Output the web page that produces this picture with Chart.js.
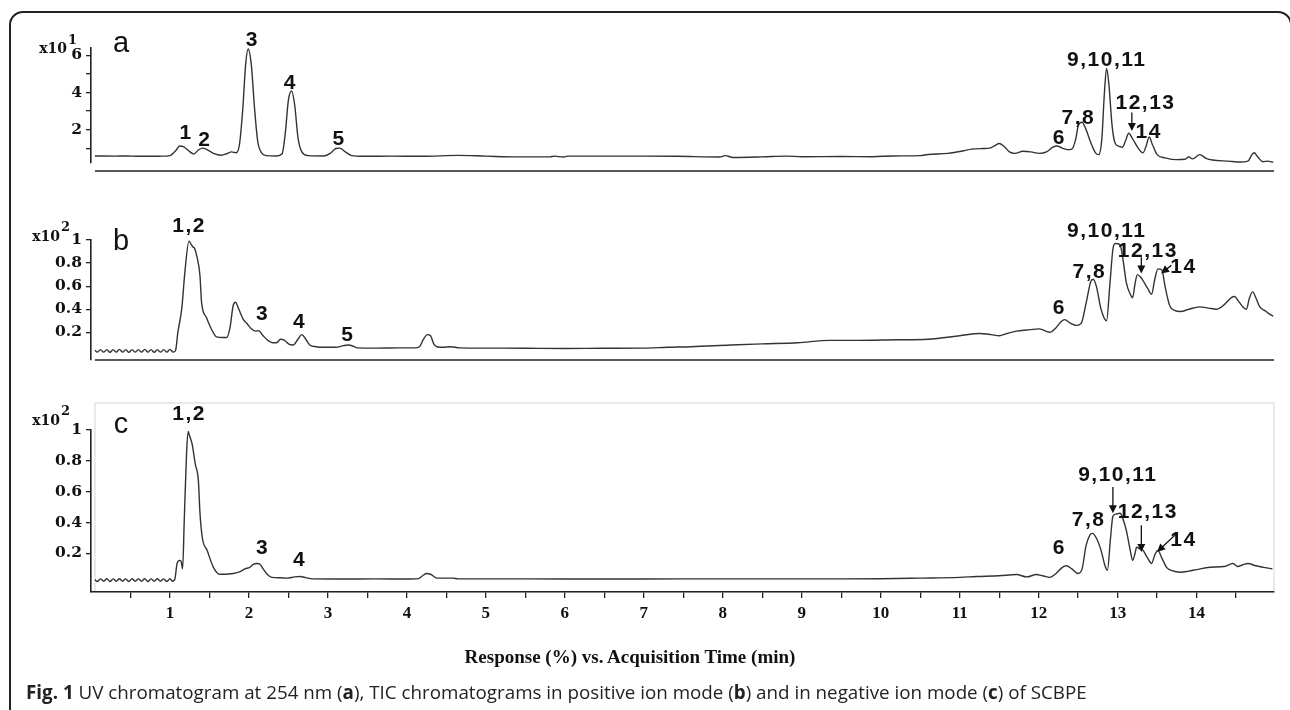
<!DOCTYPE html>
<html>
<head>
<meta charset="utf-8">
<script src="https://cdn.jsdelivr.net/npm/chart.js@4.4.1/dist/chart.umd.min.js"></script>
<style>
body { margin: 0; background: #fff; }
#wrap { position: relative; width: 1290px; height: 710px; overflow: hidden; background: #fff; }
#frame { position: absolute; left: 9px; top: 11px; width: 1283px; height: 730px; border: 2px solid #222; border-radius: 14px; box-sizing: border-box; }
canvas { position: absolute; left: 0; }
#xtitle { position: absolute; left: 330px; width: 600px; top: 647px; text-align: center; font: bold 19px "Liberation Serif"; line-height: 19px; color: #111; }
#caption { position: absolute; left: 26px; top: 682px; font: 18.8px "Open Sans"; line-height: 21px; color: #222; white-space: nowrap; }
</style>
</head>
<body>
<div id="wrap">
  <div id="frame"></div>
  <canvas id="chartA" width="1290" height="212" style="top:0px"></canvas>
  <canvas id="chartB" width="1290" height="190" style="top:212px"></canvas>
  <canvas id="chartC" width="1290" height="308" style="top:402px"></canvas>
  <div id="xtitle">Response (%) vs. Acquisition Time (min)</div>
  <div id="caption"><b>Fig. 1</b> UV chromatogram at 254 nm (<b>a</b>), TIC chromatograms in positive ion mode (<b>b</b>) and in negative ion mode (<b>c</b>) of SCBPE</div>
</div>
<script>
// acquisition time (min) and response for each trace
var timeA = [0.05, 0.3, 0.45, 0.6, 0.9, 1.0, 1.08, 1.12, 1.17, 1.24, 1.3, 1.36, 1.41, 1.47, 1.55, 1.65, 1.72, 1.78, 1.84, 1.88, 1.92, 1.96, 1.99, 2.03, 2.07, 2.11, 2.16, 2.22, 2.35, 2.42, 2.46, 2.5, 2.54, 2.58, 2.62, 2.67, 2.75, 2.95, 3.03, 3.1, 3.15, 3.22, 3.3, 3.45, 3.8, 4.2, 4.65, 5.0, 5.39, 5.81, 5.87, 5.98, 6.04, 7.0, 7.42, 7.96, 8.03, 8.13, 8.5, 8.81, 9.0, 9.5, 9.9, 10.15, 10.5, 10.6, 10.85, 11.04, 11.15, 11.3, 11.38, 11.45, 11.5, 11.56, 11.63, 11.7, 11.8, 11.9, 12.01, 12.1, 12.18, 12.23, 12.3, 12.37, 12.42, 12.47, 12.5, 12.55, 12.6, 12.66, 12.72, 12.76, 12.8, 12.83, 12.86, 12.89, 12.93, 12.97, 13.02, 13.06, 13.1, 13.14, 13.19, 13.26, 13.32, 13.36, 13.4, 13.44, 13.5, 13.6, 13.75, 13.85, 13.9, 13.95, 14.04, 14.12, 14.2, 14.4, 14.55, 14.65, 14.7, 14.73, 14.77, 14.84, 14.9, 14.97];
var respA = [0.58, 0.57, 0.58, 0.56, 0.57, 0.6, 0.9, 1.12, 1.08, 0.85, 0.68, 0.9, 1.0, 0.92, 0.72, 0.62, 0.7, 0.8, 0.75, 1.2, 3.0, 5.6, 6.35, 5.5, 3.2, 1.4, 0.75, 0.6, 0.58, 0.7, 1.8, 3.6, 4.08, 3.3, 1.6, 0.8, 0.6, 0.58, 0.72, 0.98, 1.0, 0.8, 0.6, 0.56, 0.57, 0.56, 0.61, 0.57, 0.53, 0.53, 0.57, 0.52, 0.57, 0.57, 0.56, 0.52, 0.6, 0.5, 0.53, 0.57, 0.54, 0.55, 0.54, 0.58, 0.6, 0.66, 0.72, 0.85, 0.95, 0.98, 1.0, 1.15, 1.25, 1.1, 0.8, 0.72, 0.83, 0.8, 0.72, 0.8, 1.05, 1.12, 1.0, 0.92, 0.95, 1.5, 2.2, 2.4, 2.0, 1.3, 0.75, 0.65, 1.5, 3.8, 5.3, 4.4, 2.2, 1.25, 1.1, 1.05, 1.4, 1.8, 1.5, 1.0, 0.75, 1.1, 1.6, 1.2, 0.65, 0.48, 0.38, 0.4, 0.52, 0.42, 0.65, 0.45, 0.36, 0.3, 0.25, 0.3, 0.65, 0.75, 0.55, 0.27, 0.3, 0.24];

var timeB = [0.05, 0.08, 0.12, 0.16, 0.2, 0.24, 0.28, 0.32, 0.36, 0.4, 0.44, 0.48, 0.52, 0.56, 0.6, 0.64, 0.68, 0.72, 0.76, 0.8, 0.84, 0.88, 0.92, 0.96, 1.0, 1.04, 1.07, 1.1, 1.15, 1.19, 1.24, 1.27, 1.29, 1.31, 1.34, 1.38, 1.4, 1.46, 1.53, 1.59, 1.66, 1.72, 1.76, 1.8, 1.83, 1.86, 1.89, 1.93, 1.97, 2.03, 2.08, 2.12, 2.18, 2.24, 2.3, 2.35, 2.4, 2.45, 2.5, 2.56, 2.62, 2.67, 2.72, 2.77, 2.85, 2.94, 3.1, 3.2, 3.26, 3.32, 3.37, 3.6, 3.9, 4.1, 4.16, 4.21, 4.26, 4.3, 4.34, 4.38, 4.45, 4.55, 4.67, 5.0, 5.5, 6.0, 6.5, 7.0, 7.3, 7.6, 8.1, 8.5, 8.95, 9.35, 9.7, 10.2, 10.6, 11.0, 11.25, 11.4, 11.5, 11.6, 11.72, 11.85, 12.01, 12.14, 12.22, 12.28, 12.33, 12.4, 12.48, 12.54, 12.6, 12.66, 12.69, 12.73, 12.79, 12.86, 12.9, 12.94, 12.97, 13.03, 13.07, 13.11, 13.16, 13.19, 13.22, 13.25, 13.29, 13.32, 13.38, 13.43, 13.47, 13.51, 13.56, 13.6, 13.66, 13.72, 13.8, 13.9, 14.04, 14.15, 14.25, 14.35, 14.44, 14.48, 14.53, 14.6, 14.63, 14.67, 14.71, 14.75, 14.8, 14.86, 14.92, 14.97];
var respB = [0.045, 0.028, 0.05, 0.028, 0.05, 0.026, 0.05, 0.028, 0.052, 0.028, 0.05, 0.026, 0.05, 0.028, 0.05, 0.028, 0.052, 0.028, 0.05, 0.026, 0.05, 0.028, 0.05, 0.028, 0.052, 0.028, 0.04, 0.2, 0.41, 0.73, 0.99, 0.96, 0.94, 0.93, 0.86, 0.69, 0.46, 0.33, 0.22, 0.16, 0.155, 0.155, 0.24, 0.43, 0.46, 0.42, 0.37, 0.31, 0.28, 0.23, 0.21, 0.215, 0.17, 0.13, 0.11, 0.11, 0.14, 0.13, 0.1, 0.09, 0.14, 0.18, 0.14, 0.09, 0.075, 0.07, 0.07, 0.085, 0.09, 0.08, 0.065, 0.063, 0.065, 0.065, 0.075, 0.14, 0.18, 0.17, 0.1, 0.075, 0.07, 0.075, 0.065, 0.063, 0.062, 0.06, 0.062, 0.063, 0.07, 0.075, 0.09, 0.1, 0.11, 0.13, 0.13, 0.135, 0.14, 0.17, 0.19, 0.18, 0.17, 0.19, 0.21, 0.22, 0.23, 0.2, 0.24, 0.29, 0.31, 0.28, 0.26, 0.28, 0.45, 0.64, 0.66, 0.6, 0.4, 0.3, 0.6, 0.92, 0.97, 0.96, 0.82, 0.63, 0.53, 0.5, 0.62, 0.7, 0.68, 0.65, 0.58, 0.53, 0.66, 0.75, 0.74, 0.6, 0.43, 0.39, 0.38, 0.4, 0.42, 0.41, 0.4, 0.44, 0.5, 0.51, 0.47, 0.41, 0.4, 0.5, 0.55, 0.5, 0.42, 0.39, 0.36, 0.34];

var timeC = [0.05, 0.08, 0.12, 0.16, 0.2, 0.24, 0.28, 0.32, 0.36, 0.4, 0.44, 0.48, 0.52, 0.56, 0.6, 0.64, 0.68, 0.72, 0.76, 0.8, 0.84, 0.88, 0.92, 0.96, 1.0, 1.03, 1.06, 1.09, 1.12, 1.14, 1.16, 1.18, 1.21, 1.23, 1.25, 1.28, 1.32, 1.36, 1.38, 1.41, 1.47, 1.55, 1.63, 1.7, 1.8, 1.88, 1.95, 2.01, 2.06, 2.1, 2.14, 2.18, 2.23, 2.29, 2.4, 2.48, 2.58, 2.65, 2.72, 2.8, 3.2, 3.6, 4.0, 4.15, 4.21, 4.25, 4.3, 4.38, 4.58, 4.65, 5.5, 6.5, 7.5, 8.5, 9.5, 10.0, 10.49, 11.0, 11.21, 11.5, 11.72, 11.85, 11.97, 12.05, 12.14, 12.22, 12.3, 12.35, 12.42, 12.5, 12.55, 12.6, 12.65, 12.68, 12.73, 12.79, 12.84, 12.87, 12.91, 12.94, 12.98, 13.03, 13.07, 13.11, 13.16, 13.19, 13.22, 13.24, 13.28, 13.32, 13.38, 13.43, 13.47, 13.51, 13.56, 13.62, 13.68, 13.8, 13.9, 14.0, 14.17, 14.35, 14.46, 14.52, 14.58, 14.65, 14.75, 14.85, 14.96];
var respC = [0.03, 0.018, 0.035, 0.02, 0.036, 0.018, 0.035, 0.02, 0.036, 0.02, 0.035, 0.018, 0.036, 0.02, 0.035, 0.02, 0.036, 0.018, 0.035, 0.02, 0.036, 0.02, 0.035, 0.018, 0.036, 0.02, 0.03, 0.135, 0.155, 0.15, 0.1, 0.4, 0.85, 0.99, 0.96, 0.91, 0.78, 0.67, 0.46, 0.3, 0.22, 0.11, 0.065, 0.065, 0.07, 0.08, 0.1, 0.11, 0.13, 0.135, 0.13, 0.1, 0.065, 0.045, 0.042, 0.04, 0.048, 0.05, 0.043, 0.035, 0.034, 0.035, 0.034, 0.037, 0.06, 0.07, 0.065, 0.04, 0.04, 0.035, 0.035, 0.034, 0.035, 0.035, 0.035, 0.036, 0.04, 0.045, 0.05, 0.055, 0.063, 0.048, 0.063, 0.055, 0.045, 0.07, 0.11, 0.12, 0.1, 0.07, 0.1, 0.25, 0.32, 0.33, 0.3, 0.22, 0.12, 0.09, 0.3, 0.44, 0.455, 0.46, 0.42, 0.35, 0.22, 0.155, 0.2, 0.24, 0.23, 0.22, 0.17, 0.135, 0.19, 0.22, 0.17, 0.11, 0.09, 0.078, 0.085, 0.095, 0.11, 0.115, 0.135, 0.115, 0.125, 0.135, 0.12, 0.11, 0.1];

// tick positions and labels
var xTicks = [0.5, 1, 1.5, 2, 2.5, 3, 3.5, 4, 4.5, 5, 5.5, 6, 6.5, 7, 7.5, 8, 8.5, 9, 9.5, 10, 10.5, 11, 11.5, 12, 12.5, 13, 13.5, 14, 14.5];
var xLabels = [1, 2, 3, 4, 5, 6, 7, 8, 9, 10, 11, 12, 13, 14];
var yTicksA = [1, 2, 3, 4, 5, 6];
var yLabelsA = [2, 4, 6];
var yTicksBC = [0.2, 0.4, 0.6, 0.8, 1];

// peak annotations (text, time, response)
var peaksA = [['1', 1.19, 1.8], ['2', 1.43, 1.44], ['3', 2.03, 6.84], ['4', 2.51, 4.52], ['5', 3.13, 1.48],
  ['6', 12.25, 1.52], ['7,8', 12.49, 2.64], ['9,10,11', 12.85, 5.72], ['12,13', 13.34, 3.4], ['14', 13.38, 1.84]];
var arrowsA = [[13.18, 2.92, 13.18, 1.92]];
var peaksB = [['1,2', 1.23, 1.12], ['3', 2.16, 0.36], ['4', 2.63, 0.29], ['5', 3.24, 0.174],
  ['6', 12.25, 0.41], ['7,8', 12.63, 0.72], ['9,10,11', 12.85, 1.08], ['12,13', 13.37, 0.9], ['14', 13.82, 0.76]];
var arrowsB = [[13.3, 0.85, 13.3, 0.71], [13.68, 0.78, 13.55, 0.71]];
var peaksC = [['1,2', 1.23, 1.1], ['3', 2.16, 0.234], ['4', 2.63, 0.156],
  ['6', 12.25, 0.234], ['7,8', 12.62, 0.416], ['9,10,11', 12.99, 0.71], ['12,13', 13.37, 0.47], ['14', 13.82, 0.286]];
var arrowsC = [[12.94, 0.63, 12.94, 0.46], [13.3, 0.383, 13.3, 0.21], [13.75, 0.33, 13.5, 0.21]];

function toPoints(ts, vs) {
  return ts.map(function (t, i) { return { x: t, y: vs[i] }; });
}

function decor(cfg) {
  return {
    id: 'decor',
    beforeDraw: function (chart) {
      if (!cfg.frame) return;
      var ctx = chart.ctx, a = chart.chartArea;
      ctx.save();
      ctx.strokeStyle = '#e2e2e2';
      ctx.lineWidth = 1.5;
      ctx.strokeRect(chart.scales.x.getPixelForValue(0.05), 1, a.right - chart.scales.x.getPixelForValue(0.05), a.bottom - 1);
      ctx.restore();
    },
    afterDatasetsDraw: function (chart) {
      var ctx = chart.ctx, a = chart.chartArea, x = chart.scales.x, y = chart.scales.y;
      ctx.save();
      if (cfg.sep != null) {
        ctx.strokeStyle = '#222';
        ctx.lineWidth = 1.6;
        ctx.beginPath();
        ctx.moveTo(x.getPixelForValue(0.05), a.bottom + cfg.sep);
        ctx.lineTo(a.right, a.bottom + cfg.sep);
        ctx.stroke();
      }
      ctx.fillStyle = '#111';
      // panel letter
      ctx.font = '29px "Liberation Sans"';
      ctx.textAlign = 'center';
      ctx.textBaseline = 'alphabetic';
      ctx.fillText(cfg.letter[0], x.getPixelForValue(cfg.letter[1]), y.getPixelForValue(cfg.letter[2]));
      // multiplier
      var ty = y.getPixelForValue(cfg.expAt);
      ctx.font = 'bold 14px "DejaVu Serif"';
      ctx.textAlign = 'right';
      ctx.fillText('x10', cfg.expX, ty + cfg.expDy);
      ctx.font = 'bold 13px "DejaVu Serif"';
      ctx.textAlign = 'left';
      ctx.textBaseline = 'middle';
      ctx.fillText(cfg.exp, cfg.expX + 1, ty + cfg.expDy - 13);
      // peak labels
      ctx.font = 'bold 21px "Liberation Sans"';
      ctx.letterSpacing = '1.5px';
      ctx.textAlign = 'center';
      ctx.textBaseline = 'middle';
      cfg.peaks.forEach(function (p) {
        ctx.fillText(p[0], x.getPixelForValue(p[1]) + 1, y.getPixelForValue(p[2]));
      });
      ctx.letterSpacing = '0px';
      // arrows
      ctx.strokeStyle = '#111';
      ctx.lineWidth = 1.3;
      cfg.arrows.forEach(function (r) {
        var x1 = x.getPixelForValue(r[0]), y1 = y.getPixelForValue(r[1]);
        var x2 = x.getPixelForValue(r[2]), y2 = y.getPixelForValue(r[3]);
        var ang = Math.atan2(y2 - y1, x2 - x1);
        ctx.beginPath();
        ctx.moveTo(x1, y1);
        ctx.lineTo(x2 - 6 * Math.cos(ang), y2 - 6 * Math.sin(ang));
        ctx.stroke();
        ctx.beginPath();
        ctx.moveTo(x2, y2);
        ctx.lineTo(x2 - 8 * Math.cos(ang) + 4 * Math.sin(ang), y2 - 8 * Math.sin(ang) - 4 * Math.cos(ang));
        ctx.lineTo(x2 - 8 * Math.cos(ang) - 4 * Math.sin(ang), y2 - 8 * Math.sin(ang) + 4 * Math.cos(ang));
        ctx.closePath();
        ctx.fill();
      });
      ctx.restore();
    }
  };
}

function makeChart(id, ts, vs, cfg) {
  return new Chart(document.getElementById(id), {
    type: 'line',
    data: {
      datasets: [{
        data: toPoints(ts, vs),
        borderColor: '#333',
        borderWidth: 1.4,
        pointRadius: 0,
        cubicInterpolationMode: 'monotone',
        fill: false
      }]
    },
    options: {
      responsive: false,
      animation: false,
      events: [],
      layout: { padding: { left: 0, right: 16, top: cfg.padTop, bottom: cfg.padBottom } },
      plugins: { legend: { display: false }, tooltip: { enabled: false } },
      scales: {
        x: {
          type: 'linear',
          min: 0,
          max: 14.98,
          display: cfg.showX,
          afterBuildTicks: function (s) { s.ticks = xTicks.map(function (v) { return { value: v }; }); },
          afterFit: function (s) { s.height = 40; },
          grid: { drawOnChartArea: false, drawTicks: true, tickLength: 6, color: '#222', lineWidth: 1.3 },
          border: { display: true, color: '#222', width: 1.6 },
          ticks: {
            autoSkip: false, maxRotation: 0, padding: 5, color: '#111',
            font: { family: 'Liberation Serif', size: 17, weight: 'bold' },
            callback: function (v) { return xLabels.indexOf(v) >= 0 ? String(v) : ''; }
          }
        },
        y: {
          min: cfg.yMin,
          max: cfg.yMax,
          afterBuildTicks: function (s) { s.ticks = cfg.yTicks.map(function (v) { return { value: v }; }); },
          afterFit: function (s) { s.width = 91; },
          grid: { drawOnChartArea: false, drawTicks: true, tickLength: 5, color: '#222', lineWidth: 1.3 },
          border: { display: true, color: '#222', width: 1.6 },
          ticks: {
            padding: 4, color: '#111',
            font: { family: 'DejaVu Serif', size: 15.5, weight: 'bold' },
            callback: function (v) { return cfg.yLabels.indexOf(v) >= 0 ? String(v) : ''; }
          }
        }
      }
    },
    plugins: [decor(cfg)]
  });
}

makeChart('chartA', timeA, respA, {
  padTop: 48, padBottom: 9, showX: false, yMin: 0.2, yMax: 6.4,
  yTicks: yTicksA, yLabels: yLabelsA, sep: 8,
  letter: ['a', 0.38, 6.2], exp: '1', expAt: 6, expX: 67, expDy: -2,
  peaks: peaksA, arrows: arrowsA
});
makeChart('chartB', timeB, respB, {
  padTop: 28, padBottom: 2, showX: false, yMin: -0.04, yMax: 1.0,
  yTicks: yTicksBC, yLabels: yTicksBC, sep: 0,
  letter: ['b', 0.38, 0.916], exp: '2', expAt: 1, expX: 60, expDy: 1,
  peaks: peaksB, arrows: arrowsB
});
makeChart('chartC', timeC, respC, {
  padTop: 28, padBottom: 78, showX: true, yMin: -0.05, yMax: 1.0,
  yTicks: yTicksBC, yLabels: yTicksBC, sep: null, frame: true,
  letter: ['c', 0.38, 0.98], exp: '2', expAt: 1, expX: 60, expDy: -5,
  peaks: peaksC, arrows: arrowsC
});
</script>
</body>
</html>
